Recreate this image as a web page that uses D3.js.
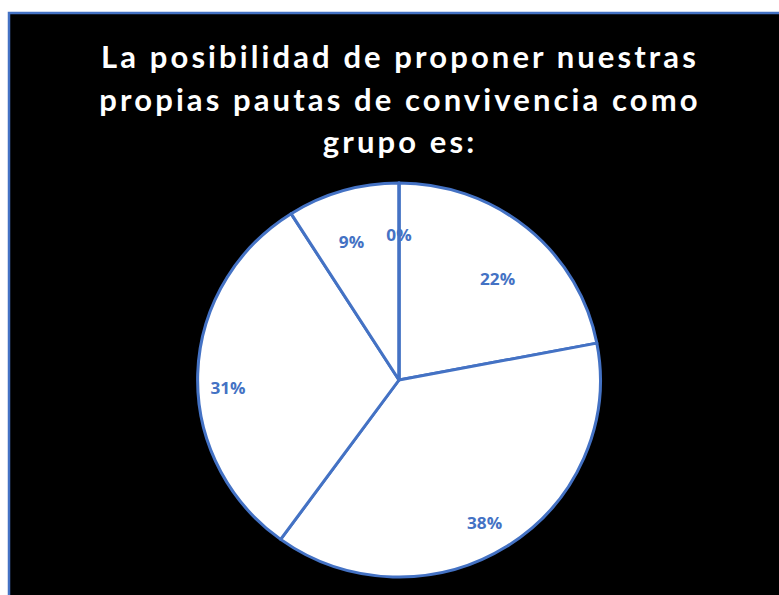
<!DOCTYPE html>
<html>
<head>
<meta charset="utf-8">
<script src="https://cdn.jsdelivr.net/npm/d3@7"></script>
<style>
  html, body { margin: 0; padding: 0; background: #ffffff; }
  svg { display: block; }
</style>
</head>
<body>
<svg id="chart" width="779" height="595"></svg>
<script>
// Survey answers, in slice order (clockwise from 12 o'clock)
const categories = ["Muy buena", "Buena", "Regular", "Mala", "Muy mala"];
const percentages = [22, 38, 31, 9, 0];
const titleLines = [
  "La posibilidad de proponer nuestras",
  "propias pautas de convivencia como",
  "grupo es:"
];

// Best-fit label placement: distance (fraction of radius) and angular nudge (degrees)
const labelRadius = [0.71, 0.84, 0.85, 0.74, 0.74];
const labelNudge = [4, 2, -4.5, -2.4, 0];

const W = 779, H = 595;
const blue = "#4472C4";
const svg = d3.select("#chart");

// Chart area: black panel with a blue frame
svg.append("rect")
  .attr("x", 9).attr("y", 13)
  .attr("width", W + 20).attr("height", H + 20)
  .attr("fill", "#000000")
  .attr("stroke", blue).attr("stroke-width", 2.5);

// Title
const title = svg.append("text")
  .attr("text-anchor", "middle")
  .attr("fill", "#ffffff")
  .attr("font-family", "Lato, 'Open Sans', sans-serif")
  .attr("font-weight", "bold")
  .attr("font-size", 31)
  .attr("letter-spacing", 3.1);
title.selectAll("tspan")
  .data(titleLines)
  .join("tspan")
  .attr("x", 400)
  .attr("y", (d, i) => 68 + i * 42.5)
  .text(d => d);

// Pie
const cx = 399, cy = 380, r = 199;
const g = svg.append("g")
  .attr("transform", `translate(${cx},${cy}) scale(1.012,0.99)`);

const data = categories.map((c, i) => ({ category: c, value: percentages[i], idx: i }));
const pie = d3.pie().sort(null).value(d => d.value);
const arcs = pie(data);
const arc = d3.arc().innerRadius(0).outerRadius(r);

g.selectAll("path.slice")
  .data(arcs)
  .join("path")
  .attr("class", "slice")
  .attr("d", arc)
  .attr("fill", "#ffffff")
  .attr("stroke", blue)
  .attr("stroke-width", 3)
  .attr("stroke-linejoin", "round");

// Value labels
g.selectAll("text.lbl")
  .data(arcs)
  .join("text")
  .attr("class", "lbl")
  .attr("transform", d => {
    const a = (d.startAngle + d.endAngle) / 2 + labelNudge[d.data.idx] * Math.PI / 180;
    const rr = r * labelRadius[d.data.idx];
    return `translate(${Math.sin(a) * rr},${-Math.cos(a) * rr})`;
  })
  .attr("text-anchor", "middle")
  .attr("dominant-baseline", "central")
  .attr("fill", blue)
  .attr("font-family", "'Open Sans', Lato, sans-serif")
  .attr("font-weight", "bold")
  .attr("font-size", 17)
  .text(d => d.data.value + "%");
</script>
</body>
</html>
